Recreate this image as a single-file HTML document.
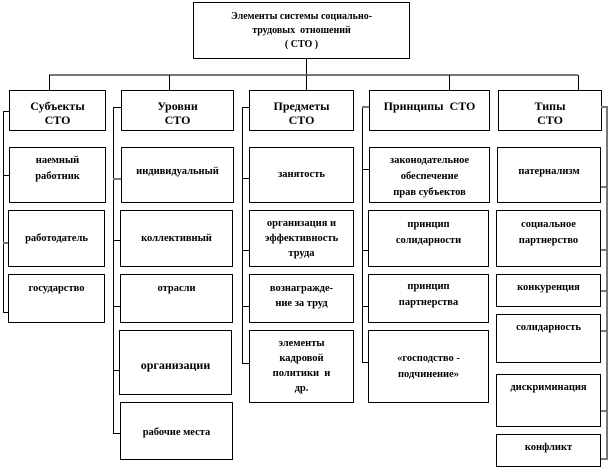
<!DOCTYPE html>
<html><head><meta charset="utf-8"><style>
body{margin:0;width:610px;height:470px;background:#fff;position:relative;overflow:hidden;font-family:"Liberation Serif","Noto Serif CJK SC",serif;font-weight:bold;color:#000}
.b{position:absolute;border:1px solid #000;box-sizing:border-box;text-align:center;font-size:10.5px;line-height:20px;padding-top:4px;background:#fff}
.h{font-size:12px;line-height:14px;padding-top:8px}
.l{position:absolute;background:#000}
.g{position:absolute;background:#777}
</style></head><body>
<div class="b" style="left:193px;top:2px;width:217px;height:57px;font-size:10px;line-height:14px;padding-top:7px">Элементы системы социально-<br>трудовых &nbsp;отношений<br>( СТО )</div>
<div class="l" style="left:306px;top:58px;width:1px;height:17px"></div>
<div class="g" style="left:49px;top:74px;width:529px;height:2px"></div>
<div class="l" style="left:49px;top:75px;width:1px;height:16px"></div>
<div class="l" style="left:169px;top:75px;width:1px;height:16px"></div>
<div class="l" style="left:306px;top:75px;width:1px;height:16px"></div>
<div class="l" style="left:449px;top:75px;width:1px;height:16px"></div>
<div class="l" style="left:578px;top:75px;width:1px;height:16px"></div>

<div class="b h" style="left:9px;top:90px;width:97px;height:41px">Субъекты<br>СТО</div>
<div class="b h" style="left:121px;top:90px;width:113px;height:41px">Уровни<br>СТО</div>
<div class="b h" style="left:249px;top:90px;width:105px;height:41px">Предметы<br>СТО</div>
<div class="b h" style="left:369px;top:90px;width:121px;height:41px">Принципы &nbsp;СТО</div>
<div class="b h" style="left:498px;top:90px;width:104px;height:41px">Типы<br>СТО</div>

<!-- subjects -->
<div class="l" style="left:3px;top:111px;width:1px;height:202px"></div>
<div class="l" style="left:3px;top:111px;width:6px;height:1px"></div>
<div class="l" style="left:3px;top:175px;width:6px;height:1px"></div>
<div class="g" style="left:3px;top:242px;width:6px;height:2px"></div>
<div class="l" style="left:3px;top:312px;width:6px;height:1px"></div>
<div class="b" style="left:9px;top:147px;width:97px;height:56px;line-height:16px;padding-top:5px">наемный<br>работник</div>
<div class="b" style="left:8px;top:210px;width:97px;height:57px;padding-top:18px">работодатель</div>
<div class="b" style="left:8px;top:274px;width:97px;height:49px;padding-top:4px">государство</div>

<!-- levels -->
<div class="l" style="left:113px;top:107px;width:1px;height:327px"></div>
<div class="l" style="left:113px;top:107px;width:8px;height:1px"></div>
<div class="g" style="left:113px;top:178px;width:8px;height:2px"></div>
<div class="l" style="left:113px;top:240px;width:8px;height:1px"></div>
<div class="l" style="left:113px;top:306px;width:8px;height:1px"></div>
<div class="l" style="left:113px;top:370px;width:7px;height:1px"></div>
<div class="l" style="left:113px;top:433px;width:7px;height:1px"></div>
<div class="b" style="left:121px;top:147px;width:113px;height:56px;padding-top:14px">индивидуальный</div>
<div class="b" style="left:120px;top:210px;width:113px;height:57px;padding-top:18px">коллективный</div>
<div class="b" style="left:120px;top:274px;width:113px;height:49px;padding-top:4px">отрасли</div>
<div class="b" style="left:119px;top:330px;width:113px;height:65px;padding-top:24px;font-size:12px">организации</div>
<div class="b" style="left:120px;top:402px;width:113px;height:58px;padding-top:20px">рабочие места</div>

<!-- predmety -->
<div class="l" style="left:242px;top:107px;width:1px;height:257px"></div>
<div class="l" style="left:242px;top:107px;width:7px;height:1px"></div>
<div class="l" style="left:242px;top:178px;width:7px;height:1px"></div>
<div class="l" style="left:242px;top:250px;width:7px;height:1px"></div>
<div class="l" style="left:242px;top:306px;width:7px;height:1px"></div>
<div class="l" style="left:242px;top:363px;width:7px;height:1px"></div>
<div class="b" style="left:249px;top:147px;width:105px;height:56px;padding-top:17px">занятость</div>
<div class="b" style="left:249px;top:210px;width:105px;height:57px;line-height:15px;padding-top:5px">организация и<br>эффективность<br>труда</div>
<div class="b" style="left:249px;top:274px;width:105px;height:49px;line-height:15px;padding-top:6px">вознагражде-<br>ние за труд</div>
<div class="b" style="left:249px;top:330px;width:105px;height:73px;line-height:15px;padding-top:5px">элементы<br>кадровой<br>политики &nbsp;и<br>др.</div>

<!-- principles -->
<div class="l" style="left:362px;top:107px;width:1px;height:256px"></div>
<div class="g" style="left:362px;top:106px;width:7px;height:2px"></div>
<div class="l" style="left:362px;top:169px;width:7px;height:1px"></div>
<div class="l" style="left:362px;top:250px;width:7px;height:1px"></div>
<div class="l" style="left:362px;top:306px;width:7px;height:1px"></div>
<div class="l" style="left:362px;top:362px;width:7px;height:1px"></div>
<div class="b" style="left:369px;top:147px;width:121px;height:56px;line-height:16px;padding-top:5px">законодательное<br>обеспечение<br>прав субъектов</div>
<div class="b" style="left:368px;top:210px;width:121px;height:57px;line-height:16px;padding-top:6px">принцип<br>солидарности</div>
<div class="b" style="left:368px;top:274px;width:121px;height:49px;line-height:16px;padding-top:4px">принцип<br>партнерства</div>
<div class="b" style="left:368px;top:330px;width:121px;height:73px;line-height:16px;padding-top:20px">«господство -<br>подчинение»</div>

<!-- types -->
<div class="g" style="left:601px;top:106px;width:7px;height:2px"></div>
<div class="g" style="left:606px;top:107px;width:2px;height:353px"></div>
<div class="g" style="left:600px;top:186px;width:7px;height:2px"></div>
<div class="g" style="left:600px;top:249px;width:7px;height:2px"></div>
<div class="g" style="left:600px;top:290px;width:7px;height:2px"></div>
<div class="g" style="left:600px;top:330px;width:7px;height:2px"></div>
<div class="g" style="left:600px;top:410px;width:7px;height:2px"></div>
<div class="g" style="left:600px;top:458px;width:7px;height:2px"></div>
<div class="b" style="left:497px;top:147px;width:104px;height:56px;padding-top:14px">патернализм</div>
<div class="b" style="left:496px;top:210px;width:105px;height:57px;line-height:16px;padding-top:6px">социальное<br>партнерство</div>
<div class="b" style="left:496px;top:274px;width:105px;height:33px;padding-top:3px">конкуренция</div>
<div class="b" style="left:496px;top:314px;width:105px;height:49px;padding-top:3px">солидарность</div>
<div class="b" style="left:496px;top:374px;width:105px;height:53px;padding-top:3px">дискриминация</div>
<div class="b" style="left:496px;top:434px;width:105px;height:33px;padding-top:3px">конфликт</div>
</body></html>
